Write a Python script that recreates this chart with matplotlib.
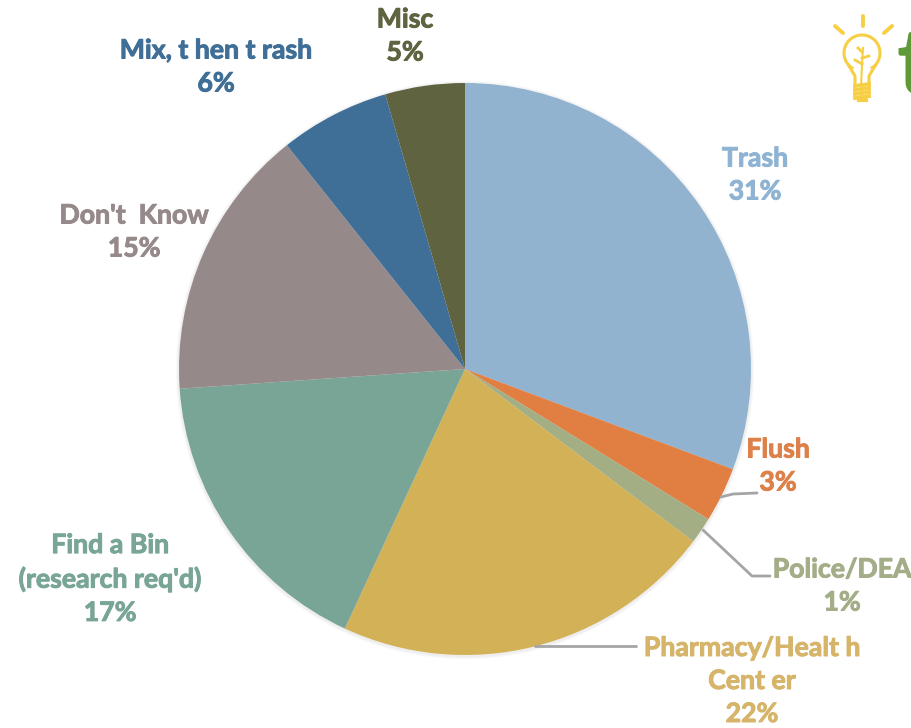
import matplotlib
matplotlib.use("Agg")
import matplotlib.pyplot as plt
import matplotlib.patheffects as pe
from matplotlib.patches import Circle, Polygon

categories = ["Trash", "Flush", "Police/DEA", "Pharmacy/Health Center",
              "Find a Bin", "Don't Know", "Mix, then trash", "Misc"]
values = [30.7, 3.1, 1.5, 21.6, 17.0, 15.4, 6.2, 4.5]
colors = ["#91B3D0", "#E07F41", "#A3AE85", "#D3B157",
          "#78A596", "#96898A", "#3F6E97", "#5F6340"]
label_texts = [
    ("Trash\n31%", 755, 175, "#8FB4D3"),
    ("Flush\n3%", 778, 466, "#DD814A"),
    ("Police/DEA\n1%", 842, 586, "#A3AE88"),
    ("Pharmacy/Healt h\nCent er\n22%", 752, 681, "#D6B56A"),
    ("Find a Bin\n(research req'd)\n17%", 110, 579, "#78A596"),
    ("Don't  Know\n15%", 134, 232, "#96898A"),
    ("Mix, t hen t rash\n6%", 216, 67, "#3F6E97"),
    ("Misc\n5%", 405, 36, "#5F6340"),
]
leaders = [
    ([721, 733, 757], [497, 494, 493]),
    ([703, 752, 770], [530, 576, 576]),
    ([535, 636], [646, 646]),
]

W, H = 912, 728
fig = plt.figure(figsize=(W / 100, H / 100), dpi=100, facecolor="white")
ax = fig.add_axes([0, 0, 1, 1])
cx, cy, r = 465, H - 369, 286

for i, a in enumerate([0.05, 0.04, 0.03]):
    ax.add_patch(Circle((cx, cy - 1), r + 3 - i, fc="#777777", ec="none", alpha=a))

ax.pie(values, colors=colors, startangle=90, counterclock=False,
       center=(cx, cy), radius=r, frame=False,
       wedgeprops=dict(linewidth=0))
ax.set_xlim(0, W)
ax.set_ylim(0, H)
ax.set_aspect("auto")
ax.axis("off")

for xs, ys in leaders:
    ax.plot(xs, [H - y for y in ys], color="#A5A5A5", lw=2, solid_capstyle="round", zorder=5)

for txt, x, y, c in label_texts:
    t = ax.text(x, H - y, txt, ha="center", va="center", color=c, fontsize=19.2,
                fontweight="bold", family="Lato", linespacing=1.45, zorder=6)
    t.set_path_effects([pe.withStroke(linewidth=0.7, foreground=c)])

# logo: light bulb and cropped letter
bulb = "#F6CF45"
ax.add_patch(Circle((862, H - 53), 18, fc="none", ec=bulb, lw=2.2, zorder=6))
ax.add_patch(Polygon([(853, H - 68), (871, H - 68), (869, H - 82), (855, H - 82)],
                     closed=True, fc="white", ec="none", zorder=6.5))
ax.plot([849, 855, 855], [H - 66, H - 76, H - 86], color=bulb, lw=2.2, zorder=7)
ax.plot([875, 869, 869], [H - 66, H - 76, H - 86], color=bulb, lw=2.2, zorder=7)
for y0 in (85, 89, 93, 97):
    ax.plot([855, 869], [H - y0 - 1, H - y0 + 1], color=bulb, lw=2.8, zorder=7)
ax.plot([859, 866], [H - 100, H - 100], color=bulb, lw=3, zorder=7)
ax.plot([863, 862, 861], [H - 48, H - 65, H - 86], color=bulb, lw=1.5, zorder=7)
ax.plot([862, 855], [H - 64, H - 60], color=bulb, lw=2, zorder=7)
ax.plot([862, 869], [H - 58, H - 56], color=bulb, lw=2, zorder=7)
ax.plot([862, 858], [H - 52, H - 48], color=bulb, lw=2, zorder=7)
for xs, ys in [([835, 843], [26, 33]), ([863, 863], [16, 26]), ([892, 884], [26, 33])]:
    ax.plot(xs, [H - y for y in ys], color=bulb, lw=2.8, solid_capstyle="round", zorder=7)
ax.text(897, H - 68, "t", ha="left", va="center", color="#5E9A38", fontsize=66,
        fontweight="bold", family="Lato", zorder=7, clip_on=True)

fig.savefig("out.png", dpi=100, facecolor="white")
